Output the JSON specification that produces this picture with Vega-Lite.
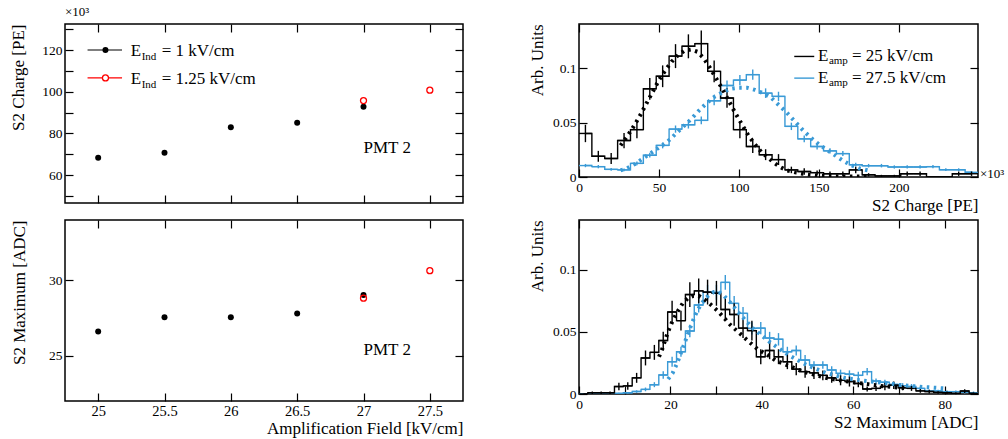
{
  "$schema": "https://vega.github.io/schema/vega-lite/v6.json",
  "background": "white",
  "padding": {"left": 8, "top": 5, "right": 5, "bottom": 4},
  "config": {
    "font": "Liberation Serif",
    "view": {"stroke": "black", "strokeWidth": 1.5},
    "axis": {"domain": false, "grid": false, "tickColor": "black", "tickWidth": 1.2, "tickSize": -8, "labelPadding": 11, "labelColor": "black", "titleColor": "black", "labelFont": "Liberation Serif", "titleFont": "Liberation Serif", "titleFontWeight": "normal", "labelFontSize": 13.5, "titleFontSize": 17, "labelFlush": false, "labelOverlap": false, "format": "~r"},
    "text": {"font": "Liberation Serif", "color": "black"},
    "title": {"font": "Liberation Serif", "fontWeight": "normal", "color": "black"}
  },
  "datasets": {
    "one": [{}],
    "pt_black": [
      {"field": 25, "charge": 68.3, "maximum": 26.61},
      {"field": 25.5, "charge": 70.7, "maximum": 27.56},
      {"field": 26, "charge": 83.0, "maximum": 27.55},
      {"field": 26.5, "charge": 85.1, "maximum": 27.8},
      {"field": 27, "charge": 92.8, "maximum": 29.02}
    ],
    "pt_red": [
      {"field": 27, "charge": 95.8, "maximum": 28.82},
      {"field": 27.5, "charge": 100.8, "maximum": 30.64}
    ],
    "q25": [
      {"lo": 0, "hi": 8.05, "mid": 4.02, "val": 0.040, "err": 0.008},
      {"lo": 8.05, "hi": 16.1, "mid": 12.07, "val": 0.019, "err": 0.005},
      {"lo": 16.1, "hi": 24.14, "mid": 20.12, "val": 0.017, "err": 0.005},
      {"lo": 24.14, "hi": 32.19, "mid": 28.17, "val": 0.0335, "err": 0.007},
      {"lo": 32.19, "hi": 40.24, "mid": 36.22, "val": 0.0435, "err": 0.008},
      {"lo": 40.24, "hi": 48.29, "mid": 44.27, "val": 0.081, "err": 0.010},
      {"lo": 48.29, "hi": 56.34, "mid": 52.31, "val": 0.0925, "err": 0.010},
      {"lo": 56.34, "hi": 64.39, "mid": 60.36, "val": 0.111, "err": 0.011},
      {"lo": 64.39, "hi": 72.43, "mid": 68.41, "val": 0.120, "err": 0.011},
      {"lo": 72.43, "hi": 80.48, "mid": 76.46, "val": 0.1225, "err": 0.012},
      {"lo": 80.48, "hi": 88.53, "mid": 84.51, "val": 0.097, "err": 0.010},
      {"lo": 88.53, "hi": 96.58, "mid": 92.55, "val": 0.0725, "err": 0.009},
      {"lo": 96.58, "hi": 104.63, "mid": 100.6, "val": 0.0435, "err": 0.008},
      {"lo": 104.63, "hi": 112.68, "mid": 108.65, "val": 0.028, "err": 0.006},
      {"lo": 112.68, "hi": 120.72, "mid": 116.7, "val": 0.0205, "err": 0.005},
      {"lo": 120.72, "hi": 128.77, "mid": 124.75, "val": 0.016, "err": 0.005},
      {"lo": 128.77, "hi": 136.82, "mid": 132.8, "val": 0.0065, "err": 0.003},
      {"lo": 136.82, "hi": 144.87, "mid": 140.84, "val": 0.005, "err": 0.003},
      {"lo": 144.87, "hi": 152.92, "mid": 148.89, "val": 0.004, "err": 0.002},
      {"lo": 152.92, "hi": 160.97, "mid": 156.94, "val": 0.003, "err": 0.002},
      {"lo": 160.97, "hi": 169.01, "mid": 164.99, "val": 0.003, "err": 0.002},
      {"lo": 169.01, "hi": 177.06, "mid": 173.04, "val": 0.0065, "err": 0.003},
      {"lo": 177.06, "hi": 185.11, "mid": 181.09, "val": 0.002, "err": 0.0015},
      {"lo": 185.11, "hi": 193.16, "mid": 189.13, "val": 0.001, "err": 0.001},
      {"lo": 193.16, "hi": 201.21, "mid": 197.18, "val": 0.001, "err": 0.001},
      {"lo": 201.21, "hi": 209.26, "mid": 205.23, "val": 0.003, "err": 0.002},
      {"lo": 209.26, "hi": 217.3, "mid": 213.28, "val": 0.003, "err": 0.002},
      {"lo": 217.3, "hi": 225.35, "mid": 221.33, "val": 0.0, "err": 0.0},
      {"lo": 225.35, "hi": 233.4, "mid": 229.38, "val": 0.0, "err": 0.0},
      {"lo": 233.4, "hi": 241.45, "mid": 237.42, "val": 0.003, "err": 0.002},
      {"lo": 241.45, "hi": 249.5, "mid": 245.47, "val": 0.003, "err": 0.002}
    ],
    "q275": [
      {"lo": 0, "hi": 8.05, "mid": 4.02, "val": 0.0105, "err": 0.0015},
      {"lo": 8.05, "hi": 16.1, "mid": 12.07, "val": 0.0095, "err": 0.0015},
      {"lo": 16.1, "hi": 24.14, "mid": 20.12, "val": 0.007, "err": 0.0013},
      {"lo": 24.14, "hi": 32.19, "mid": 28.17, "val": 0.0065, "err": 0.0013},
      {"lo": 32.19, "hi": 40.24, "mid": 36.22, "val": 0.0125, "err": 0.0018},
      {"lo": 40.24, "hi": 48.29, "mid": 44.27, "val": 0.020, "err": 0.0022},
      {"lo": 48.29, "hi": 56.34, "mid": 52.31, "val": 0.029, "err": 0.0027},
      {"lo": 56.34, "hi": 64.39, "mid": 60.36, "val": 0.044, "err": 0.0033},
      {"lo": 64.39, "hi": 72.43, "mid": 68.41, "val": 0.048, "err": 0.0035},
      {"lo": 72.43, "hi": 80.48, "mid": 76.46, "val": 0.052, "err": 0.0036},
      {"lo": 80.48, "hi": 88.53, "mid": 84.51, "val": 0.070, "err": 0.0042},
      {"lo": 88.53, "hi": 96.58, "mid": 92.55, "val": 0.084, "err": 0.0046},
      {"lo": 96.58, "hi": 104.63, "mid": 100.6, "val": 0.089, "err": 0.0047},
      {"lo": 104.63, "hi": 112.68, "mid": 108.65, "val": 0.094, "err": 0.0048},
      {"lo": 112.68, "hi": 120.72, "mid": 116.7, "val": 0.077, "err": 0.0044},
      {"lo": 120.72, "hi": 128.77, "mid": 124.75, "val": 0.074, "err": 0.0043},
      {"lo": 128.77, "hi": 136.82, "mid": 132.8, "val": 0.0465, "err": 0.0034},
      {"lo": 136.82, "hi": 144.87, "mid": 140.84, "val": 0.035, "err": 0.0030},
      {"lo": 144.87, "hi": 152.92, "mid": 148.89, "val": 0.028, "err": 0.0027},
      {"lo": 152.92, "hi": 160.97, "mid": 156.94, "val": 0.024, "err": 0.0025},
      {"lo": 160.97, "hi": 169.01, "mid": 164.99, "val": 0.0215, "err": 0.0023},
      {"lo": 169.01, "hi": 177.06, "mid": 173.04, "val": 0.0113, "err": 0.0017},
      {"lo": 177.06, "hi": 185.11, "mid": 181.09, "val": 0.0104, "err": 0.0016},
      {"lo": 185.11, "hi": 193.16, "mid": 189.13, "val": 0.0104, "err": 0.0016},
      {"lo": 193.16, "hi": 201.21, "mid": 197.18, "val": 0.0092, "err": 0.0015},
      {"lo": 201.21, "hi": 209.26, "mid": 205.23, "val": 0.0092, "err": 0.0015},
      {"lo": 209.26, "hi": 217.3, "mid": 213.28, "val": 0.0092, "err": 0.0015},
      {"lo": 217.3, "hi": 225.35, "mid": 221.33, "val": 0.0095, "err": 0.0015},
      {"lo": 225.35, "hi": 233.4, "mid": 229.38, "val": 0.0067, "err": 0.0013},
      {"lo": 233.4, "hi": 241.45, "mid": 237.42, "val": 0.0067, "err": 0.0013},
      {"lo": 241.45, "hi": 249.5, "mid": 245.47, "val": 0.0043, "err": 0.001}
    ],
    "m25": [
      {"lo": 0, "hi": 1.94, "mid": 0.97, "val": 0.0, "err": 0.0},
      {"lo": 1.94, "hi": 3.88, "mid": 2.91, "val": 0.001, "err": 0.001},
      {"lo": 3.88, "hi": 5.82, "mid": 4.85, "val": 0.001, "err": 0.001},
      {"lo": 5.82, "hi": 7.76, "mid": 6.79, "val": 0.001, "err": 0.001},
      {"lo": 7.76, "hi": 9.7, "mid": 8.73, "val": 0.006, "err": 0.003},
      {"lo": 9.7, "hi": 11.64, "mid": 10.67, "val": 0.0065, "err": 0.003},
      {"lo": 11.64, "hi": 13.58, "mid": 12.61, "val": 0.013, "err": 0.004},
      {"lo": 13.58, "hi": 15.52, "mid": 14.55, "val": 0.029, "err": 0.006},
      {"lo": 15.52, "hi": 17.46, "mid": 16.49, "val": 0.0335, "err": 0.006},
      {"lo": 17.46, "hi": 19.4, "mid": 18.43, "val": 0.043, "err": 0.007},
      {"lo": 19.4, "hi": 21.34, "mid": 20.37, "val": 0.066, "err": 0.009},
      {"lo": 21.34, "hi": 23.28, "mid": 22.31, "val": 0.059, "err": 0.008},
      {"lo": 23.28, "hi": 25.22, "mid": 24.25, "val": 0.080, "err": 0.010},
      {"lo": 25.22, "hi": 27.16, "mid": 26.19, "val": 0.083, "err": 0.010},
      {"lo": 27.16, "hi": 29.1, "mid": 28.13, "val": 0.082, "err": 0.010},
      {"lo": 29.1, "hi": 31.04, "mid": 30.07, "val": 0.081, "err": 0.010},
      {"lo": 31.04, "hi": 32.98, "mid": 32.01, "val": 0.068, "err": 0.009},
      {"lo": 32.98, "hi": 34.92, "mid": 33.95, "val": 0.064, "err": 0.009},
      {"lo": 34.92, "hi": 36.86, "mid": 35.89, "val": 0.053, "err": 0.008},
      {"lo": 36.86, "hi": 38.8, "mid": 37.83, "val": 0.051, "err": 0.008},
      {"lo": 38.8, "hi": 40.74, "mid": 39.77, "val": 0.030, "err": 0.006},
      {"lo": 40.74, "hi": 42.68, "mid": 41.71, "val": 0.035, "err": 0.007},
      {"lo": 42.68, "hi": 44.62, "mid": 43.65, "val": 0.030, "err": 0.006},
      {"lo": 44.62, "hi": 46.56, "mid": 45.59, "val": 0.026, "err": 0.006},
      {"lo": 46.56, "hi": 48.5, "mid": 47.53, "val": 0.020, "err": 0.005},
      {"lo": 48.5, "hi": 50.44, "mid": 49.47, "val": 0.018, "err": 0.005},
      {"lo": 50.44, "hi": 52.38, "mid": 51.41, "val": 0.017, "err": 0.005},
      {"lo": 52.38, "hi": 54.32, "mid": 53.35, "val": 0.015, "err": 0.004},
      {"lo": 54.32, "hi": 56.26, "mid": 55.29, "val": 0.013, "err": 0.004},
      {"lo": 56.26, "hi": 58.2, "mid": 57.23, "val": 0.011, "err": 0.004},
      {"lo": 58.2, "hi": 60.14, "mid": 59.17, "val": 0.010, "err": 0.004},
      {"lo": 60.14, "hi": 62.08, "mid": 61.11, "val": 0.0085, "err": 0.003},
      {"lo": 62.08, "hi": 64.02, "mid": 63.05, "val": 0.004, "err": 0.002},
      {"lo": 64.02, "hi": 65.96, "mid": 64.99, "val": 0.0045, "err": 0.002},
      {"lo": 65.96, "hi": 67.9, "mid": 66.93, "val": 0.006, "err": 0.003},
      {"lo": 67.9, "hi": 69.84, "mid": 68.87, "val": 0.007, "err": 0.003},
      {"lo": 69.84, "hi": 71.78, "mid": 70.81, "val": 0.005, "err": 0.002},
      {"lo": 71.78, "hi": 73.72, "mid": 72.75, "val": 0.0045, "err": 0.002},
      {"lo": 73.72, "hi": 75.66, "mid": 74.69, "val": 0.0025, "err": 0.0015},
      {"lo": 75.66, "hi": 77.6, "mid": 76.63, "val": 0.002, "err": 0.0015},
      {"lo": 77.6, "hi": 79.54, "mid": 78.57, "val": 0.0013, "err": 0.001},
      {"lo": 79.54, "hi": 81.48, "mid": 80.51, "val": 0.001, "err": 0.001},
      {"lo": 81.48, "hi": 83.42, "mid": 82.45, "val": 0.0005, "err": 0.0007},
      {"lo": 83.42, "hi": 85.36, "mid": 84.39, "val": 0.0024, "err": 0.0015},
      {"lo": 85.36, "hi": 87.3, "mid": 86.33, "val": 0.0005, "err": 0.0007}
    ],
    "m275": [
      {"lo": 0, "hi": 1.94, "mid": 0.97, "val": 0.0, "err": 0.0},
      {"lo": 1.94, "hi": 3.88, "mid": 2.91, "val": 0.0, "err": 0.0},
      {"lo": 3.88, "hi": 5.82, "mid": 4.85, "val": 0.0, "err": 0.0},
      {"lo": 5.82, "hi": 7.76, "mid": 6.79, "val": 0.0, "err": 0.0},
      {"lo": 7.76, "hi": 9.7, "mid": 8.73, "val": 0.0005, "err": 0.0005},
      {"lo": 9.7, "hi": 11.64, "mid": 10.67, "val": 0.001, "err": 0.0007},
      {"lo": 11.64, "hi": 13.58, "mid": 12.61, "val": 0.002, "err": 0.001},
      {"lo": 13.58, "hi": 15.52, "mid": 14.55, "val": 0.0037, "err": 0.0015},
      {"lo": 15.52, "hi": 17.46, "mid": 16.49, "val": 0.0075, "err": 0.002},
      {"lo": 17.46, "hi": 19.4, "mid": 18.43, "val": 0.0153, "err": 0.003},
      {"lo": 19.4, "hi": 21.34, "mid": 20.37, "val": 0.026, "err": 0.004},
      {"lo": 21.34, "hi": 23.28, "mid": 22.31, "val": 0.034, "err": 0.004},
      {"lo": 23.28, "hi": 25.22, "mid": 24.25, "val": 0.0507, "err": 0.005},
      {"lo": 25.22, "hi": 27.16, "mid": 26.19, "val": 0.0716, "err": 0.006},
      {"lo": 27.16, "hi": 29.1, "mid": 28.13, "val": 0.0818, "err": 0.006},
      {"lo": 29.1, "hi": 31.04, "mid": 30.07, "val": 0.0818, "err": 0.006},
      {"lo": 31.04, "hi": 32.98, "mid": 32.01, "val": 0.0898, "err": 0.006},
      {"lo": 32.98, "hi": 34.92, "mid": 33.95, "val": 0.0729, "err": 0.006},
      {"lo": 34.92, "hi": 36.86, "mid": 35.89, "val": 0.0649, "err": 0.005},
      {"lo": 36.86, "hi": 38.8, "mid": 37.83, "val": 0.0528, "err": 0.005},
      {"lo": 38.8, "hi": 40.74, "mid": 39.77, "val": 0.053, "err": 0.005},
      {"lo": 40.74, "hi": 42.68, "mid": 41.71, "val": 0.045, "err": 0.005},
      {"lo": 42.68, "hi": 44.62, "mid": 43.65, "val": 0.044, "err": 0.005},
      {"lo": 44.62, "hi": 46.56, "mid": 45.59, "val": 0.034, "err": 0.004},
      {"lo": 46.56, "hi": 48.5, "mid": 47.53, "val": 0.035, "err": 0.004},
      {"lo": 48.5, "hi": 50.44, "mid": 49.47, "val": 0.0273, "err": 0.004},
      {"lo": 50.44, "hi": 52.38, "mid": 51.41, "val": 0.0233, "err": 0.003},
      {"lo": 52.38, "hi": 54.32, "mid": 53.35, "val": 0.0233, "err": 0.003},
      {"lo": 54.32, "hi": 56.26, "mid": 55.29, "val": 0.0193, "err": 0.003},
      {"lo": 56.26, "hi": 58.2, "mid": 57.23, "val": 0.0166, "err": 0.003},
      {"lo": 58.2, "hi": 60.14, "mid": 59.17, "val": 0.016, "err": 0.003},
      {"lo": 60.14, "hi": 62.08, "mid": 61.11, "val": 0.015, "err": 0.003},
      {"lo": 62.08, "hi": 64.02, "mid": 63.05, "val": 0.018, "err": 0.003},
      {"lo": 64.02, "hi": 65.96, "mid": 64.99, "val": 0.0104, "err": 0.002},
      {"lo": 65.96, "hi": 67.9, "mid": 66.93, "val": 0.0094, "err": 0.002},
      {"lo": 67.9, "hi": 69.84, "mid": 68.87, "val": 0.0077, "err": 0.002},
      {"lo": 69.84, "hi": 71.78, "mid": 70.81, "val": 0.0067, "err": 0.002},
      {"lo": 71.78, "hi": 73.72, "mid": 72.75, "val": 0.006, "err": 0.002},
      {"lo": 73.72, "hi": 75.66, "mid": 74.69, "val": 0.0045, "err": 0.0015},
      {"lo": 75.66, "hi": 77.6, "mid": 76.63, "val": 0.0024, "err": 0.001},
      {"lo": 77.6, "hi": 79.54, "mid": 78.57, "val": 0.0024, "err": 0.001},
      {"lo": 79.54, "hi": 81.48, "mid": 80.51, "val": 0.0019, "err": 0.001},
      {"lo": 81.48, "hi": 83.42, "mid": 82.45, "val": 0.0019, "err": 0.001},
      {"lo": 83.42, "hi": 85.36, "mid": 84.39, "val": 0.0015, "err": 0.001},
      {"lo": 85.36, "hi": 87.3, "mid": 86.33, "val": 0.001, "err": 0.001}
    ],
    "fq25": [
      {"x": 26, "y": 0.029}, {"x": 30, "y": 0.037}, {"x": 34, "y": 0.046}, {"x": 38, "y": 0.056},
      {"x": 42, "y": 0.067}, {"x": 46, "y": 0.078}, {"x": 50, "y": 0.089}, {"x": 54, "y": 0.098},
      {"x": 58, "y": 0.106}, {"x": 62, "y": 0.112}, {"x": 66, "y": 0.116}, {"x": 70, "y": 0.117},
      {"x": 74, "y": 0.115}, {"x": 78, "y": 0.109}, {"x": 82, "y": 0.100}, {"x": 86, "y": 0.090},
      {"x": 90, "y": 0.080}, {"x": 94, "y": 0.069}, {"x": 98, "y": 0.058}, {"x": 102, "y": 0.048},
      {"x": 106, "y": 0.038}, {"x": 110, "y": 0.030}, {"x": 114, "y": 0.023}, {"x": 118, "y": 0.018},
      {"x": 122, "y": 0.013}, {"x": 126, "y": 0.009}, {"x": 130, "y": 0.006}, {"x": 136, "y": 0.004},
      {"x": 142, "y": 0.0025}, {"x": 150, "y": 0.0012}, {"x": 160, "y": 0.0006}, {"x": 170, "y": 0.0004},
      {"x": 180, "y": 0.0003}
    ],
    "fq275": [
      {"x": 26, "y": 0.006}, {"x": 30, "y": 0.008}, {"x": 35, "y": 0.012}, {"x": 40, "y": 0.017},
      {"x": 45, "y": 0.022}, {"x": 50, "y": 0.027}, {"x": 55, "y": 0.032}, {"x": 60, "y": 0.039},
      {"x": 65, "y": 0.046}, {"x": 70, "y": 0.053}, {"x": 75, "y": 0.061}, {"x": 80, "y": 0.068},
      {"x": 85, "y": 0.074}, {"x": 90, "y": 0.078}, {"x": 95, "y": 0.081}, {"x": 100, "y": 0.082},
      {"x": 105, "y": 0.082}, {"x": 110, "y": 0.080}, {"x": 115, "y": 0.077}, {"x": 120, "y": 0.073},
      {"x": 125, "y": 0.066}, {"x": 130, "y": 0.059}, {"x": 135, "y": 0.051}, {"x": 140, "y": 0.043},
      {"x": 145, "y": 0.036}, {"x": 150, "y": 0.030}, {"x": 155, "y": 0.025}, {"x": 160, "y": 0.020},
      {"x": 165, "y": 0.015}, {"x": 170, "y": 0.011}, {"x": 175, "y": 0.008}, {"x": 181, "y": 0.006}
    ],
    "fm25": [
      {"x": 17.5, "y": 0.030}, {"x": 18.2, "y": 0.036}, {"x": 19, "y": 0.045}, {"x": 19.8, "y": 0.053},
      {"x": 20.5, "y": 0.059}, {"x": 21.5, "y": 0.066}, {"x": 22.7, "y": 0.073}, {"x": 23.8, "y": 0.077},
      {"x": 25, "y": 0.079}, {"x": 26.2, "y": 0.079}, {"x": 27.5, "y": 0.076}, {"x": 28.8, "y": 0.072},
      {"x": 30.3, "y": 0.067}, {"x": 31.8, "y": 0.061}, {"x": 33, "y": 0.056}, {"x": 34.2, "y": 0.052},
      {"x": 35.4, "y": 0.048}, {"x": 37.2, "y": 0.042}, {"x": 39.1, "y": 0.036}, {"x": 41, "y": 0.032},
      {"x": 43, "y": 0.027}, {"x": 45, "y": 0.024}, {"x": 47, "y": 0.021}, {"x": 49, "y": 0.018},
      {"x": 51, "y": 0.016}, {"x": 54, "y": 0.013}, {"x": 57, "y": 0.011}, {"x": 60, "y": 0.0095},
      {"x": 63, "y": 0.008}, {"x": 66, "y": 0.0065}, {"x": 69, "y": 0.0055}, {"x": 72, "y": 0.0045}
    ],
    "fm275": [
      {"x": 19.5, "y": 0.012}, {"x": 20.5, "y": 0.017}, {"x": 21.5, "y": 0.025}, {"x": 22.5, "y": 0.035},
      {"x": 23.5, "y": 0.045}, {"x": 24.5, "y": 0.055}, {"x": 25.5, "y": 0.064}, {"x": 26.5, "y": 0.071},
      {"x": 27.5, "y": 0.076}, {"x": 28.5, "y": 0.080}, {"x": 29.5, "y": 0.082}, {"x": 30.5, "y": 0.082},
      {"x": 31.5, "y": 0.080}, {"x": 32.5, "y": 0.076}, {"x": 33.5, "y": 0.072}, {"x": 35, "y": 0.065},
      {"x": 36.5, "y": 0.059}, {"x": 38, "y": 0.053}, {"x": 40, "y": 0.047}, {"x": 42, "y": 0.041},
      {"x": 44, "y": 0.036}, {"x": 46, "y": 0.031}, {"x": 48, "y": 0.027}, {"x": 50, "y": 0.023},
      {"x": 52, "y": 0.020}, {"x": 54, "y": 0.017}, {"x": 56, "y": 0.015}, {"x": 58, "y": 0.013},
      {"x": 60, "y": 0.0118}, {"x": 62, "y": 0.0108}, {"x": 64, "y": 0.010}, {"x": 66, "y": 0.0093},
      {"x": 68, "y": 0.0085}, {"x": 70, "y": 0.0075}, {"x": 72, "y": 0.0067}, {"x": 74, "y": 0.006},
      {"x": 76, "y": 0.0055}, {"x": 78, "y": 0.005}, {"x": 80, "y": 0.0045}
    ]
  },
  "columns": 2,
  "bounds": "flush",
  "spacing": {"row": 17, "column": 116},
  "concat": [
    {
      "width": 398, "height": 179,
      "title": {"text": "×10³", "anchor": "start", "frame": "group", "fontSize": 13, "offset": 3},
      "resolve": {"axis": {"x": "independent", "y": "independent"}},
      "layer": [
        {
          "data": {"name": "pt_black"},
          "mark": {"type": "point", "filled": true, "color": "black", "size": 36, "opacity": 1},
          "encoding": {
            "x": {"field": "field", "type": "quantitative", "scale": {"domain": [24.75, 27.75], "nice": false, "zero": false},
              "axis": {"values": [25, 25.5, 26, 26.5, 27, 27.5], "labels": false, "title": null}},
            "y": {"field": "charge", "type": "quantitative", "scale": {"domain": [46.6, 132.6], "nice": false, "zero": false},
              "axis": {"values": [50, 60, 70, 80, 90, 100, 110, 120, 130], "labelExpr": "datum.value % 20 == 0 ? datum.label : ''", "title": "S2 Charge [PE]", "titleAnchor": "end", "titlePadding": 14}}
          }
        },
        {
          "data": {"name": "pt_black"},
          "mark": {"type": "point", "opacity": 0},
          "encoding": {
            "x": {"field": "field", "type": "quantitative", "axis": {"orient": "top", "values": [25, 25.5, 26, 26.5, 27, 27.5], "labels": false, "title": null}},
            "y": {"field": "charge", "type": "quantitative", "axis": {"orient": "right", "values": [50, 60, 70, 80, 90, 100, 110, 120, 130], "labels": false, "title": null}}
          }
        },
        {
          "data": {"name": "pt_red"},
          "mark": {"type": "point", "filled": false, "color": "#ff0000", "size": 36, "strokeWidth": 1.3, "opacity": 1},
          "encoding": {
            "x": {"field": "field", "type": "quantitative", "axis": null},
            "y": {"field": "charge", "type": "quantitative", "axis": null}
          }
        },
        {
          "data": {"name": "one"},
          "mark": {"type": "rule", "color": "black", "strokeWidth": 1.2},
          "encoding": {"x": {"datum": 24.92, "axis": null}, "x2": {"datum": 25.18}, "y": {"datum": 120.1, "axis": null}}
        },
        {
          "data": {"name": "one"},
          "mark": {"type": "point", "filled": true, "color": "black", "size": 36, "opacity": 1},
          "encoding": {"x": {"datum": 25.055, "axis": null}, "y": {"datum": 120.1, "axis": null}}
        },
        {
          "data": {"name": "one"},
          "mark": {"type": "rule", "color": "#ff0000", "strokeWidth": 1.2},
          "encoding": {"x": {"datum": 24.92, "axis": null}, "x2": {"datum": 25.18}, "y": {"datum": 106.7, "axis": null}}
        },
        {
          "data": {"name": "one"},
          "mark": {"type": "point", "filled": true, "color": "white", "size": 36, "opacity": 1},
          "encoding": {"x": {"datum": 25.055, "axis": null}, "y": {"datum": 106.7, "axis": null}}
        },
        {
          "data": {"name": "one"},
          "mark": {"type": "point", "filled": false, "color": "#ff0000", "size": 36, "strokeWidth": 1.3, "opacity": 1},
          "encoding": {"x": {"datum": 25.055, "axis": null}, "y": {"datum": 106.7, "axis": null}}
        },
        {
          "data": {"name": "one"},
          "mark": {"type": "text", "text": "E", "fontSize": 17, "align": "left", "baseline": "alphabetic", "dy": 6},
          "encoding": {"x": {"datum": 25.245, "axis": null}, "y": {"datum": 120.1, "axis": null}}
        },
        {
          "data": {"name": "one"},
          "mark": {"type": "text", "text": "Ind", "fontSize": 11, "align": "left", "baseline": "alphabetic", "dx": 11, "dy": 10},
          "encoding": {"x": {"datum": 25.245, "axis": null}, "y": {"datum": 120.1, "axis": null}}
        },
        {
          "data": {"name": "one"},
          "mark": {"type": "text", "text": "= 1 kV/cm", "fontSize": 17, "align": "left", "baseline": "alphabetic", "dx": 31, "dy": 6},
          "encoding": {"x": {"datum": 25.245, "axis": null}, "y": {"datum": 120.1, "axis": null}}
        },
        {
          "data": {"name": "one"},
          "mark": {"type": "text", "text": "E", "fontSize": 17, "align": "left", "baseline": "alphabetic", "dy": 6},
          "encoding": {"x": {"datum": 25.245, "axis": null}, "y": {"datum": 106.7, "axis": null}}
        },
        {
          "data": {"name": "one"},
          "mark": {"type": "text", "text": "Ind", "fontSize": 11, "align": "left", "baseline": "alphabetic", "dx": 11, "dy": 10},
          "encoding": {"x": {"datum": 25.245, "axis": null}, "y": {"datum": 106.7, "axis": null}}
        },
        {
          "data": {"name": "one"},
          "mark": {"type": "text", "text": "= 1.25 kV/cm", "fontSize": 17, "align": "left", "baseline": "alphabetic", "dx": 31, "dy": 6},
          "encoding": {"x": {"datum": 25.245, "axis": null}, "y": {"datum": 106.7, "axis": null}}
        },
        {
          "data": {"name": "one"},
          "mark": {"type": "text", "text": "PMT 2", "fontSize": 17, "align": "left", "baseline": "alphabetic"},
          "encoding": {"x": {"datum": 27.0, "axis": null}, "y": {"datum": 70.4, "axis": null}}
        }
      ]
    },
    {
      "width": 399, "height": 153,
      "resolve": {"axis": {"x": "independent", "y": "independent"}},
      "layer": [
        {
          "data": {"name": "q275"},
          "mark": {"type": "line", "interpolate": "step", "color": "#3a9ad6", "strokeWidth": 1.4, "clip": true},
          "encoding": {
            "x": {"field": "mid", "type": "quantitative", "scale": {"domain": [0, 249.5], "nice": false, "zero": false},
              "axis": {"values": [0, 50, 100, 150, 200], "title": "S2 Charge [PE]", "titleAnchor": "end", "titlePadding": 4}},
            "y": {"field": "val", "type": "quantitative", "scale": {"domain": [0, 0.1405], "nice": false, "zero": false},
              "axis": {"values": [0, 0.05, 0.1], "title": "Arb. Units", "titleAnchor": "end", "titlePadding": 6}}
          }
        },
        {
          "data": {"name": "fq25"},
          "mark": {"type": "point", "opacity": 0},
          "encoding": {
            "x": {"field": "x", "type": "quantitative", "axis": {"orient": "top", "values": [0, 50, 100, 150, 200], "labels": false, "title": null}},
            "y": {"field": "y", "type": "quantitative", "axis": {"orient": "right", "values": [0, 0.05, 0.1], "labels": false, "title": null}}
          }
        },
        {
          "data": {"name": "q275"},
          "mark": {"type": "rule", "color": "#3a9ad6", "strokeWidth": 1.4, "clip": true},
          "encoding": {
            "x": {"field": "lo", "type": "quantitative", "axis": null},
            "x2": {"field": "hi"},
            "y": {"field": "val", "type": "quantitative", "axis": null}
          }
        },
        {
          "data": {"name": "q275"},
          "mark": {"type": "errorbar", "color": "#3a9ad6", "thickness": 1.4},
          "encoding": {
            "x": {"field": "mid", "type": "quantitative", "axis": null},
            "y": {"field": "val", "type": "quantitative", "axis": null},
            "yError": {"field": "err"}
          }
        },
        {
          "data": {"name": "q25"},
          "mark": {"type": "line", "interpolate": "step", "color": "black", "strokeWidth": 1.4, "clip": true},
          "encoding": {
            "x": {"field": "mid", "type": "quantitative", "axis": null},
            "y": {"field": "val", "type": "quantitative", "axis": null}
          }
        },
        {
          "data": {"name": "q25"},
          "mark": {"type": "rule", "color": "black", "strokeWidth": 1.4, "clip": true},
          "encoding": {
            "x": {"field": "lo", "type": "quantitative", "axis": null},
            "x2": {"field": "hi"},
            "y": {"field": "val", "type": "quantitative", "axis": null}
          }
        },
        {
          "data": {"name": "q25"},
          "mark": {"type": "errorbar", "color": "black", "thickness": 1.4},
          "encoding": {
            "x": {"field": "mid", "type": "quantitative", "axis": null},
            "y": {"field": "val", "type": "quantitative", "axis": null},
            "yError": {"field": "err"}
          }
        },
        {
          "data": {"name": "fq275"},
          "mark": {"type": "line", "color": "#3a9ad6", "strokeWidth": 4, "strokeDash": [2.5, 4.5], "clip": true},
          "encoding": {
            "x": {"field": "x", "type": "quantitative", "axis": null},
            "y": {"field": "y", "type": "quantitative", "axis": null}
          }
        },
        {
          "data": {"name": "fq25"},
          "mark": {"type": "line", "color": "black", "strokeWidth": 4, "strokeDash": [2.5, 4.5], "clip": true},
          "encoding": {
            "x": {"field": "x", "type": "quantitative", "axis": null},
            "y": {"field": "y", "type": "quantitative", "axis": null}
          }
        },
        {
          "data": {"name": "one"},
          "mark": {"type": "rule", "color": "black", "strokeWidth": 1.4},
          "encoding": {"x": {"datum": 134.6, "axis": null}, "x2": {"datum": 147.1}, "y": {"datum": 0.1107, "axis": null}}
        },
        {
          "data": {"name": "one"},
          "mark": {"type": "rule", "color": "#3a9ad6", "strokeWidth": 1.4},
          "encoding": {"x": {"datum": 134.6, "axis": null}, "x2": {"datum": 147.1}, "y": {"datum": 0.0908, "axis": null}}
        },
        {
          "data": {"name": "one"},
          "mark": {"type": "text", "text": "E", "fontSize": 17, "align": "left", "baseline": "alphabetic", "dy": 5},
          "encoding": {"x": {"datum": 149.4, "axis": null}, "y": {"datum": 0.1107, "axis": null}}
        },
        {
          "data": {"name": "one"},
          "mark": {"type": "text", "text": "amp", "fontSize": 11, "align": "left", "baseline": "alphabetic", "dx": 11, "dy": 8},
          "encoding": {"x": {"datum": 149.4, "axis": null}, "y": {"datum": 0.1107, "axis": null}}
        },
        {
          "data": {"name": "one"},
          "mark": {"type": "text", "text": "= 25 kV/cm", "fontSize": 17, "align": "left", "baseline": "alphabetic", "dx": 34, "dy": 5},
          "encoding": {"x": {"datum": 149.4, "axis": null}, "y": {"datum": 0.1107, "axis": null}}
        },
        {
          "data": {"name": "one"},
          "mark": {"type": "text", "text": "E", "fontSize": 17, "align": "left", "baseline": "alphabetic", "dy": 5},
          "encoding": {"x": {"datum": 149.4, "axis": null}, "y": {"datum": 0.0908, "axis": null}}
        },
        {
          "data": {"name": "one"},
          "mark": {"type": "text", "text": "amp", "fontSize": 11, "align": "left", "baseline": "alphabetic", "dx": 11, "dy": 8},
          "encoding": {"x": {"datum": 149.4, "axis": null}, "y": {"datum": 0.0908, "axis": null}}
        },
        {
          "data": {"name": "one"},
          "mark": {"type": "text", "text": "= 27.5 kV/cm", "fontSize": 17, "align": "left", "baseline": "alphabetic", "dx": 34, "dy": 5},
          "encoding": {"x": {"datum": 149.4, "axis": null}, "y": {"datum": 0.0908, "axis": null}}
        },
        {
          "data": {"name": "one"},
          "mark": {"type": "text", "text": "×10³", "fontSize": 13, "align": "left", "baseline": "alphabetic", "dx": 2, "dy": 1},
          "encoding": {"x": {"datum": 249.5, "axis": null}, "y": {"datum": 0, "axis": null}}
        }
      ]
    },
    {
      "width": 398, "height": 181,
      "resolve": {"axis": {"x": "independent", "y": "independent"}},
      "layer": [
        {
          "data": {"name": "pt_black"},
          "mark": {"type": "point", "filled": true, "color": "black", "size": 36, "opacity": 1},
          "encoding": {
            "x": {"field": "field", "type": "quantitative", "scale": {"domain": [24.75, 27.75], "nice": false, "zero": false},
              "axis": {"values": [25, 25.5, 26, 26.5, 27, 27.5], "labelFontSize": 14.5, "title": "Amplification Field [kV/cm]", "titleAnchor": "end", "titlePadding": 3}},
            "y": {"field": "maximum", "type": "quantitative", "scale": {"domain": [22, 34], "nice": false, "zero": false},
              "axis": {"values": [25, 30], "title": "S2 Maximum [ADC]", "titleAnchor": "end", "titlePadding": 20}}
          }
        },
        {
          "data": {"name": "pt_black"},
          "mark": {"type": "point", "opacity": 0},
          "encoding": {
            "x": {"field": "field", "type": "quantitative", "axis": {"orient": "top", "values": [25, 25.5, 26, 26.5, 27, 27.5], "labels": false, "title": null}},
            "y": {"field": "maximum", "type": "quantitative", "axis": {"orient": "right", "values": [25, 30], "labels": false, "title": null}}
          }
        },
        {
          "data": {"name": "pt_red"},
          "mark": {"type": "point", "filled": false, "color": "#ff0000", "size": 36, "strokeWidth": 1.3, "opacity": 1},
          "encoding": {
            "x": {"field": "field", "type": "quantitative", "axis": null},
            "y": {"field": "maximum", "type": "quantitative", "axis": null}
          }
        },
        {
          "data": {"name": "one"},
          "mark": {"type": "text", "text": "PMT 2", "fontSize": 17, "align": "left", "baseline": "alphabetic"},
          "encoding": {"x": {"datum": 27.0, "axis": null}, "y": {"datum": 25.07, "axis": null}}
        }
      ]
    },
    {
      "width": 399, "height": 174,
      "resolve": {"axis": {"x": "independent", "y": "independent"}},
      "layer": [
        {
          "data": {"name": "m275"},
          "mark": {"type": "line", "interpolate": "step", "color": "#3a9ad6", "strokeWidth": 1.4, "clip": true},
          "encoding": {
            "x": {"field": "mid", "type": "quantitative", "scale": {"domain": [0, 87.3], "nice": false, "zero": false},
              "axis": {"values": [0, 10, 20, 30, 40, 50, 60, 70, 80], "labelExpr": "datum.value % 20 == 0 ? datum.label : ''", "title": "S2 Maximum [ADC]", "titleAnchor": "end", "titlePadding": 4}},
            "y": {"field": "val", "type": "quantitative", "scale": {"domain": [0, 0.14], "nice": false, "zero": false},
              "axis": {"values": [0, 0.05, 0.1], "title": "Arb. Units", "titleAnchor": "end", "titlePadding": 6}}
          }
        },
        {
          "data": {"name": "fm25"},
          "mark": {"type": "point", "opacity": 0},
          "encoding": {
            "x": {"field": "x", "type": "quantitative", "axis": {"orient": "top", "values": [0, 10, 20, 30, 40, 50, 60, 70, 80], "labels": false, "title": null}},
            "y": {"field": "y", "type": "quantitative", "axis": {"orient": "right", "values": [0, 0.05, 0.1], "labels": false, "title": null}}
          }
        },
        {
          "data": {"name": "m275"},
          "mark": {"type": "rule", "color": "#3a9ad6", "strokeWidth": 1.4, "clip": true},
          "encoding": {
            "x": {"field": "lo", "type": "quantitative", "axis": null},
            "x2": {"field": "hi"},
            "y": {"field": "val", "type": "quantitative", "axis": null}
          }
        },
        {
          "data": {"name": "m275"},
          "mark": {"type": "errorbar", "color": "#3a9ad6", "thickness": 1.4},
          "encoding": {
            "x": {"field": "mid", "type": "quantitative", "axis": null},
            "y": {"field": "val", "type": "quantitative", "axis": null},
            "yError": {"field": "err"}
          }
        },
        {
          "data": {"name": "m25"},
          "mark": {"type": "line", "interpolate": "step", "color": "black", "strokeWidth": 1.4, "clip": true},
          "encoding": {
            "x": {"field": "mid", "type": "quantitative", "axis": null},
            "y": {"field": "val", "type": "quantitative", "axis": null}
          }
        },
        {
          "data": {"name": "m25"},
          "mark": {"type": "rule", "color": "black", "strokeWidth": 1.4, "clip": true},
          "encoding": {
            "x": {"field": "lo", "type": "quantitative", "axis": null},
            "x2": {"field": "hi"},
            "y": {"field": "val", "type": "quantitative", "axis": null}
          }
        },
        {
          "data": {"name": "m25"},
          "mark": {"type": "errorbar", "color": "black", "thickness": 1.4},
          "encoding": {
            "x": {"field": "mid", "type": "quantitative", "axis": null},
            "y": {"field": "val", "type": "quantitative", "axis": null},
            "yError": {"field": "err"}
          }
        },
        {
          "data": {"name": "fm275"},
          "mark": {"type": "line", "color": "#3a9ad6", "strokeWidth": 4, "strokeDash": [2.5, 4.5], "clip": true},
          "encoding": {
            "x": {"field": "x", "type": "quantitative", "axis": null},
            "y": {"field": "y", "type": "quantitative", "axis": null}
          }
        },
        {
          "data": {"name": "fm25"},
          "mark": {"type": "line", "color": "black", "strokeWidth": 4, "strokeDash": [2.5, 4.5], "clip": true},
          "encoding": {
            "x": {"field": "x", "type": "quantitative", "axis": null},
            "y": {"field": "y", "type": "quantitative", "axis": null}
          }
        }
      ]
    }
  ]
}
